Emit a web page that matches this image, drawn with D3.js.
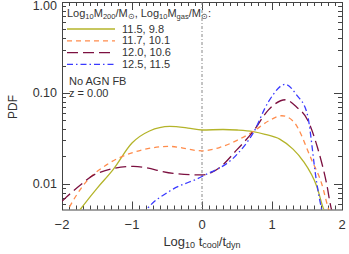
<!DOCTYPE html>
<html>
<head>
<meta charset="utf-8">
<script src="https://cdn.jsdelivr.net/npm/d3@7"></script>
<style>
  body { margin: 0; background: #fff; }
  svg { display: block; font-family: "Liberation Sans", Arial, sans-serif; }
</style>
</head>
<body>
<svg id="chart" width="349" height="254"></svg>
<script>
// log10 tcool/tdyn positions and PDF values
const olive = [[-1.8, 0.0045], [-1.74, 0.0052], [-1.5, 0.0089], [-1.27, 0.0143], [-1.0, 0.028], [-0.75, 0.038],
  [-0.46, 0.0427], [-0.2, 0.041], [0, 0.039], [0.3, 0.0395], [0.5, 0.039], [0.73, 0.0375], [0.9, 0.035],
  [1.11, 0.031], [1.3, 0.024], [1.44, 0.018], [1.64, 0.0093], [1.74, 0.0052], [1.78, 0.0045]];
const orange = [[-1.95, 0.0045], [-1.91, 0.0052], [-1.65, 0.0106], [-1.36, 0.0162], [-0.99, 0.022], [-0.46, 0.0257],
  [0, 0.023], [0.25, 0.025], [0.5, 0.030], [0.73, 0.0375], [0.95, 0.049], [1.14, 0.056], [1.3, 0.049],
  [1.57, 0.018], [1.71, 0.010], [1.81, 0.0052], [1.84, 0.0045]];
const maroon = [[-2, 0.0064], [-1.75, 0.0095], [-1.5, 0.013], [-0.98, 0.0155], [-0.41, 0.013], [0, 0.0125],
  [0.25, 0.015], [0.5, 0.0237], [0.73, 0.0375], [0.95, 0.065], [1.19, 0.084], [1.35, 0.07], [1.51, 0.05],
  [1.65, 0.025], [1.78, 0.010], [1.85, 0.0052], [1.88, 0.0045]];
const blue = [[-0.85, 0.0045], [-0.79, 0.0052], [-0.46, 0.0083], [0, 0.012], [0.5, 0.021], [0.73, 0.036],
  [0.95, 0.08], [1.19, 0.124], [1.35, 0.095], [1.5, 0.06], [1.64, 0.0101], [1.71, 0.0052], [1.73, 0.0045]];

const seriesData = [olive, orange, maroon, blue];
const seriesLabels = ["11.5, 9.8", "11.7, 10.1", "12.0, 10.6", "12.5, 11.5"];
const seriesColors = ["#b4b42a", "#ff8c4c", "#7c1040", "#3a3aff"];
const seriesDash = [null, "5,4", "11,5", "6,3,1.5,3"];

const xTicks = [-2, -1, 0, 1, 2];
const yTicks = [1, 0.1, 0.01];
const yTickLabels = ["1.00", "0.10", "0.01"];

const svg = d3.select("#chart");
const pL = 62, pR = 342, pT = 2, pB = 209.5;

const x = d3.scaleLinear().domain([-2, 2]).range([pL, pR]);
const y = d3.scaleLog().domain([0.0052, 1]).range([pB, pT]);

const axisColor = "#444";

// minor/major ticks on all four sides (IDL style)
const ticksG = svg.append("g").attr("stroke", axisColor).attr("stroke-width", 1);
d3.range(-20, 21).forEach(i => {
  const v = i / 10, px = Math.round(x(v)) + 0.5;
  const len = (i % 10 === 0) ? 8 : 4;
  ticksG.append("line").attr("x1", px).attr("x2", px).attr("y1", pB).attr("y2", pB - len);
  ticksG.append("line").attr("x1", px).attr("x2", px).attr("y1", pT).attr("y2", pT + len);
});
const yMinor = [];
[0.001, 0.01, 0.1].forEach(d => d3.range(1, 10).forEach(m => yMinor.push(d * m)));
yMinor.push(1);
yMinor.filter(v => v >= 0.0052 && v <= 1).forEach(v => {
  const py = Math.round(y(v)) + 0.5;
  const len = yTicks.includes(+v.toPrecision(3)) ? 8 : 4;
  ticksG.append("line").attr("x1", pL).attr("x2", pL + len).attr("y1", py).attr("y2", py);
  ticksG.append("line").attr("x1", pR).attr("x2", pR - len).attr("y1", py).attr("y2", py);
});

svg.append("rect")
  .attr("x", pL + 0.5).attr("y", pT + 0.5)
  .attr("width", pR - pL).attr("height", pB - pT)
  .attr("fill", "none").attr("stroke", axisColor);

// dotted line at zero
svg.append("line")
  .attr("x1", x(0)).attr("x2", x(0)).attr("y1", pT).attr("y2", pB)
  .attr("stroke", "#888").attr("stroke-dasharray", "3,2,1,2");

// tick labels
svg.selectAll(".xt").data(xTicks).join("text")
  .attr("x", d => x(d)).attr("y", 229)
  .attr("text-anchor", "middle").attr("font-size", 13).attr("fill", "#333")
  .text(d => d < 0 ? "\u2212" + Math.abs(d) : d);

svg.selectAll(".yt").data(yTicks).join("text")
  .attr("x", 57).attr("y", d => Math.max(y(d) + 4.5, 9.5))
  .attr("text-anchor", "end").attr("font-size", 12.5).attr("fill", "#333")
  .text((d, i) => yTickLabels[i]);

svg.append("text")
  .attr("transform", "translate(17,107) rotate(-90)")
  .attr("text-anchor", "middle").attr("font-size", 12).attr("fill", "#333")
  .text("PDF");

const xl = svg.append("text").attr("x", 202).attr("y", 246)
  .attr("text-anchor", "middle").attr("font-size", 13).attr("fill", "#333");
xl.append("tspan").text("Log");
xl.append("tspan").attr("font-size", 9).attr("dy", 2).text("10");
xl.append("tspan").attr("dy", -2).text(" t");
xl.append("tspan").attr("font-size", 9).attr("dy", 2).text("cool");
xl.append("tspan").attr("dy", -2).text("/t");
xl.append("tspan").attr("font-size", 9).attr("dy", 2).text("dyn");

// curves
svg.append("clipPath").attr("id", "plotclip").append("rect")
  .attr("x", pL).attr("y", pT).attr("width", pR - pL).attr("height", pB - pT);

const line = d3.line()
  .x(d => x(d[0])).y(d => y(d[1]))
  .curve(d3.curveMonotoneX);

svg.append("g").attr("clip-path", "url(#plotclip)")
  .selectAll("path").data(seriesData).join("path")
  .attr("d", line)
  .attr("fill", "none")
  .attr("stroke", (d, i) => seriesColors[i])
  .attr("stroke-width", 1.3)
  .attr("stroke-dasharray", (d, i) => seriesDash[i]);

// legend
const title = svg.append("text").attr("x", 67).attr("y", 17).attr("font-size", 11).attr("fill", "#333");
title.append("tspan").text("Log");
title.append("tspan").attr("font-size", 7.5).attr("dy", 2).text("10");
title.append("tspan").attr("dy", -2).text("M");
title.append("tspan").attr("font-size", 7.5).attr("dy", 2).text("200");
title.append("tspan").attr("dy", -2).text("/M");
title.append("tspan").attr("font-size", 7.5).attr("dy", 2).text("\u2299");
title.append("tspan").attr("dy", -2).text(", Log");
title.append("tspan").attr("font-size", 7.5).attr("dy", 2).text("10");
title.append("tspan").attr("dy", -2).text("M");
title.append("tspan").attr("font-size", 7.5).attr("dy", 2).text("gas");
title.append("tspan").attr("dy", -2).text("/M");
title.append("tspan").attr("font-size", 7.5).attr("dy", 2).text("\u2299");
title.append("tspan").attr("dy", -2).text(":");

const leg = svg.append("g");
seriesLabels.forEach((lab, i) => {
  const ly = 29 + i * 11.8;
  leg.append("line").attr("x1", 67).attr("x2", 115).attr("y1", ly).attr("y2", ly)
    .attr("stroke", seriesColors[i]).attr("stroke-width", 1.3)
    .attr("stroke-dasharray", seriesDash[i]);
  leg.append("text").attr("x", 122).attr("y", ly + 3.5)
    .attr("font-size", 11).attr("fill", "#333").text(lab);
});

svg.append("text").attr("x", 69).attr("y", 85).attr("font-size", 11).attr("fill", "#333").text("No AGN FB");
svg.append("text").attr("x", 69).attr("y", 97).attr("font-size", 11).attr("fill", "#333").text("z = 0.00");
</script>
</body>
</html>
